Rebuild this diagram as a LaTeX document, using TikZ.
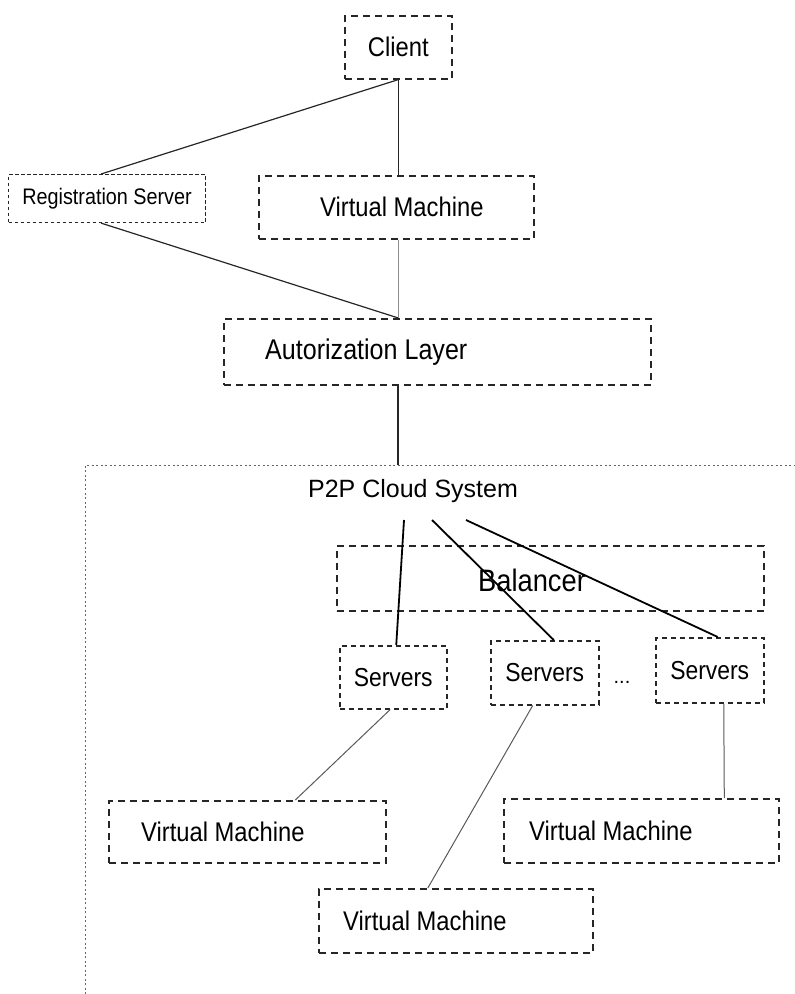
\documentclass[tikz,border=0pt]{standalone}
\usepackage{fontspec}
\setmainfont{Liberation Sans}[FakeStretch=0.88]
\newfontfamily\widefont{Liberation Sans}
\begin{document}
\begin{tikzpicture}[x=1pt,y=-1pt,
  bx/.style={draw=black!85, line width=1.6pt, dash pattern=on 7pt off 5pt, inner sep=0pt, anchor=north west},
  thinbx/.style={draw=black!85, line width=1.1pt, dash pattern=on 3.5pt off 2.5pt, inner sep=0pt, anchor=north west},
  srvbx/.style={draw=black!85, line width=1.5pt, dash pattern=on 5pt off 4pt, inner sep=0pt, anchor=north west, font=\fontsize{26}{30}\selectfont},
  lbl/.style={inner sep=0pt, anchor=west},
  upline/.style={draw=black!85, line width=1.2pt},
  faint/.style={draw=black!45, line width=0.8pt},
  heavy/.style={draw=black, line width=1.8pt},
  lowline/.style={draw=black!65, line width=1pt},
  region/.style={draw=black!60, line width=1pt, dash pattern=on 2pt off 2.5pt}
]
\useasboundingbox (0,0) rectangle (795,994);

% boxes
\node[bx, minimum width=107pt, minimum height=63pt, font=\fontsize{27}{31}\selectfont] (client) at (344,15) {Client};
\node[thinbx, minimum width=197pt, minimum height=48pt, font=\fontsize{22.5}{26}\selectfont] (reg) at (8,174) {Registration Server};
\node[bx, minimum width=275pt, minimum height=63pt,
  label={[lbl, xshift=62pt, font=\fontsize{27}{31}\selectfont]west:Virtual Machine}] (vmtop) at (258,175) {};
\node[bx, minimum width=427pt, minimum height=66pt,
  label={[lbl, xshift=42pt, font=\fontsize{28.5}{32}\selectfont]west:Autorization Layer}] (aut) at (223,318) {};

% P2P region
\draw[region] (85,994) -- (85,465) -- (795,465);
\coordinate (entry) at (398,465);
\node[inner sep=0pt, font=\widefont\fontsize{25}{30}\selectfont] (p2p) at (413,491) {P2P Cloud System};
\coordinate (f1) at (404,520);
\coordinate (f2) at (432,520);
\coordinate (f3) at (466,520);

\node[bx, minimum width=427pt, minimum height=65pt,
  label={[lbl, xshift=142pt, yshift=-2pt, font=\fontsize{31}{35}\selectfont]west:Balancer}] (bal) at (336,545) {};

\node[srvbx, minimum width=107pt, minimum height=63pt] (s1) at (339,645) {Servers};
\node[srvbx, minimum width=108pt, minimum height=64pt] (s2) at (490,640) {Servers};
\node[srvbx, minimum width=108pt, minimum height=65pt] (s3) at (655,637) {Servers};
\node[inner sep=0pt, anchor=base, font=\widefont\fontsize{20}{24}\selectfont] (dots) at (622,683) {...};

\node[bx, minimum width=277pt, minimum height=62pt,
  label={[lbl, xshift=33pt, font=\fontsize{27}{31}\selectfont]west:Virtual Machine}] (vm1) at (108,800) {};
\node[bx, minimum width=275pt, minimum height=64pt,
  label={[lbl, xshift=26pt, font=\fontsize{27}{31}\selectfont]west:Virtual Machine}] (vm2) at (503,798) {};
\node[bx, minimum width=274pt, minimum height=64pt,
  label={[lbl, xshift=25pt, font=\fontsize{27}{31}\selectfont]west:Virtual Machine}] (vm3) at (318,888) {};

% connectors
\draw[upline] (client.south) -- ([xshift=-6pt]reg.north);
\draw[upline, line width=0.9pt] (client.south) -- (client.south |- vmtop.north);
\draw[upline] ([xshift=-6pt]reg.south) -- (client.south |- aut.north);
\draw[faint] (client.south |- vmtop.south) -- (client.south |- aut.north);
\draw[upline] (entry |- aut.south) -- (entry);

\draw[heavy] (f1) -- ([xshift=3pt]s1.north);
\draw[heavy] (f2) -- ([xshift=9pt]s2.north);
\draw[heavy] (f3) -- ([xshift=8pt]s3.north);

\draw[lowline] ([xshift=-3pt]s1.south) -- ([xshift=48pt]vm1.north);
\draw[lowline] ([xshift=-12pt]s2.south) -- ([xshift=-28pt]vm3.north);
\draw[lowline] ([xshift=14pt]s3.south) -- ([xshift=83pt]vm2.north);
\end{tikzpicture}
\end{document}
